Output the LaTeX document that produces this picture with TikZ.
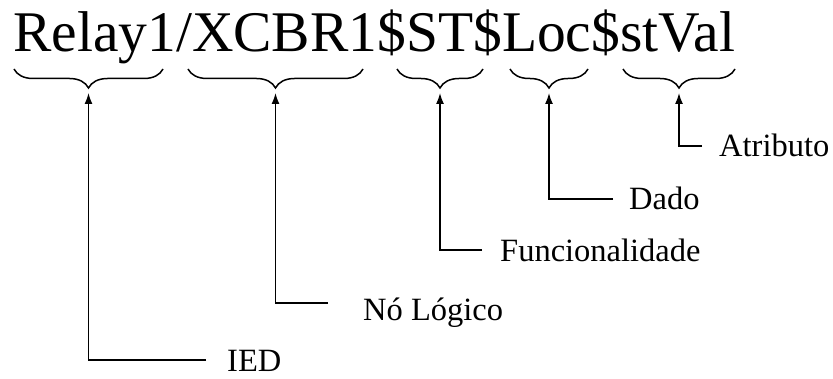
\documentclass[tikz,border=0pt]{standalone}
\usepackage{fontspec}
\setmainfont{Liberation Serif}
\usetikzlibrary{arrows.meta,decorations.pathreplacing}
\tikzset{
  brc/.style={decorate,decoration={brace,mirror,amplitude=19pt},line width=1.5pt},
  lbl/.style={anchor=west,inner sep=0pt,font=\fontsize{32.5}{36}\selectfont,text height=22pt,text depth=0pt},
  arr/.style={line width=1.5pt,-{Latex[length=11pt,width=8pt]},shorten >=5pt}
}
\begin{document}
\begin{tikzpicture}[x=1pt,y=1pt]
    \useasboundingbox (0,0) rectangle (833,378);
    \node[anchor=base west,inner sep=0pt,font=\fontsize{57.5}{60}\selectfont] (name) at (13,326) {Relay1/XCBR1\$ST\$Loc\$stVal};
    \draw[brc] (14,309) -- (163,309) coordinate[midway,yshift=-19pt] (t1);
    \draw[brc] (188,309) -- (363,309) coordinate[midway,yshift=-19pt] (t2);
    \draw[brc] (397,309) -- (483,309) coordinate[midway,yshift=-19pt] (t3);
    \draw[brc] (510,309) -- (588,309) coordinate[midway,yshift=-19pt] (t4);
    \draw[brc] (623,309) -- (735,309) coordinate[midway,yshift=-19pt] (t5);
    \node[lbl] (ied) at (227,18) {IED};
    \node[lbl] (nl) at (363,69) {Nó Lógico};
    \node[lbl] (fun) at (500,128) {Funcionalidade};
    \node[lbl] (dado) at (629,179) {Dado};
    \node[lbl] (atr) at (719,232) {Atributo};
    \draw[arr] ([xshift=-21pt]ied.west) -| (t1);
    \draw[arr] ([xshift=-35pt,yshift=6pt]nl.west) -| (t2);
    \draw[arr] ([xshift=-18pt]fun.west) -| (t3);
    \draw[arr] ([xshift=-16pt]dado.west) -| (t4);
    \draw[arr] ([xshift=-17pt]atr.west) -| (t5);
\end{tikzpicture}
\end{document}
